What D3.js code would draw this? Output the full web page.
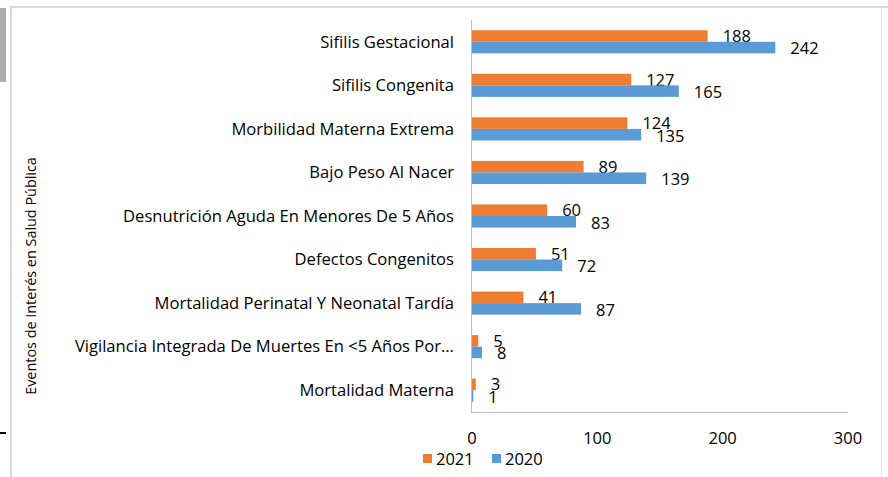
<!DOCTYPE html>
<html>
<head>
<meta charset="utf-8">
<script src="https://cdn.jsdelivr.net/npm/d3@7"></script>
<style>
  body { margin: 0; background: #fff; }
  svg { display: block; font-family: "Open Sans", "Noto Sans", sans-serif; }
</style>
</head>
<body>
<div id="chart"></div>
<script>
// event names, top to bottom
var categories = [
    "Sifilis Gestacional",
    "Sifilis Congenita",
    "Morbilidad Materna Extrema",
    "Bajo Peso Al Nacer",
    "Desnutrición Aguda En Menores De 5 Años",
    "Defectos Congenitos",
    "Mortalidad Perinatal Y Neonatal Tardía",
    "Vigilancia Integrada De Muertes En <5 Años Por…",
    "Mortalidad Materna"
];
var values2021 = [188, 127, 124, 89, 60, 51, 41, 5, 3];
var values2020 = [242, 165, 135, 139, 83, 72, 87, 8, 1];
var xTicks = [0, 100, 200, 300];
var seriesNames = ["2021", "2020"];
var seriesColors = ["#ED7D31", "#5B9BD5"];

var width = 888, height = 477;
var plotLeft = 472, plotRight = 848, plotTop = 20, plotBottom = 412;

var svg = d3.select("#chart").append("svg")
    .attr("width", width)
    .attr("height", height);

// frame bits around the chart area
svg.append("rect").attr("x", 0).attr("y", 8).attr("width", 6).attr("height", 74).style("fill", "#aeaaaa");
svg.append("rect").attr("x", 0).attr("y", 432).attr("width", 6).attr("height", 2).style("fill", "#000");
svg.append("line").attr("x1", 10).attr("x2", 888).attr("y1", 7).attr("y2", 7)
    .style("stroke", "#d9d9d9").style("stroke-width", 2);
svg.append("line").attr("x1", 11).attr("x2", 11).attr("y1", 6).attr("y2", 477)
    .style("stroke", "#d9d9d9").style("stroke-width", 2);
svg.append("line").attr("x1", 881.5).attr("x2", 881.5).attr("y1", 7).attr("y2", 477)
    .style("stroke", "#e3e3e3").style("stroke-width", 1);

var x = d3.scaleLinear().domain([0, 300]).range([plotLeft, plotRight]);
var y = d3.scaleBand().domain(categories).range([plotTop, plotBottom]).paddingInner(0.47).paddingOuter(0.235);
var sub = d3.scaleBand().domain(seriesNames).range([0, y.bandwidth()]);

// axis lines
svg.append("line").attr("x1", plotLeft).attr("x2", plotRight).attr("y1", plotBottom + 0.5).attr("y2", plotBottom + 0.5)
    .style("stroke", "#bfbfbf");
svg.append("line").attr("x1", plotLeft - 0.5).attr("x2", plotLeft - 0.5).attr("y1", plotTop).attr("y2", plotBottom + 1)
    .style("stroke", "#bfbfbf");

// x tick labels
svg.selectAll(".xtick").data(xTicks).enter().append("text")
    .attr("class", "xtick")
    .attr("x", function(d) { return x(d); })
    .attr("y", 438)
    .attr("dy", "0.36em")
    .attr("text-anchor", "middle")
    .style("font-size", "16.5px")
    .style("fill", "#000")
    .text(function(d) { return d; });

// category labels
svg.selectAll(".cat").data(categories).enter().append("text")
    .attr("class", "cat")
    .attr("x", 454)
    .attr("y", function(d) { return y(d) + y.bandwidth() / 2; })
    .attr("dy", "0.35em")
    .attr("text-anchor", "end")
    .style("font-size", "16.6px")
    .style("fill", "#000")
    .text(function(d) { return d; });

// bars + value labels
var series = [values2021, values2020];
series.forEach(function(vals, si) {
    var name = seriesNames[si];
    svg.selectAll(".bar" + name).data(vals).enter().append("rect")
        .attr("x", x(0))
        .attr("y", function(d, i) { return y(categories[i]) + sub(name); })
        .attr("width", function(d) { return x(d) - x(0); })
        .attr("height", sub.bandwidth())
        .style("fill", seriesColors[si]);

    svg.selectAll(".lbl" + name).data(vals).enter().append("text")
        .attr("x", function(d) { return x(d) + 15; })
        .attr("y", function(d, i) { return y(categories[i]) + sub(name) + sub.bandwidth() / 2 + (si == 1 ? 1 : 0); })
        .attr("dy", "0.36em")
        .style("font-size", "16.5px")
        .style("fill", "#000")
        .text(function(d) { return d; });
});

// y axis title
svg.append("text")
    .attr("transform", "translate(36,276) rotate(-90)")
    .attr("text-anchor", "middle")
    .style("font-size", "14.4px")
    .style("fill", "#000")
    .text("Eventos de Interés en Salud Pública");

// legend
var legend = svg.append("g");
var legendX = [423, 492];
seriesNames.forEach(function(name, i) {
    legend.append("rect")
        .attr("x", legendX[i]).attr("y", 454)
        .attr("width", 9).attr("height", 9)
        .style("fill", seriesColors[i]);
    legend.append("text")
        .attr("x", legendX[i] + 13).attr("y", 459)
        .attr("dy", "0.36em")
        .style("font-size", "16.5px")
        .style("fill", "#000")
        .text(name);
});
</script>
</body>
</html>
